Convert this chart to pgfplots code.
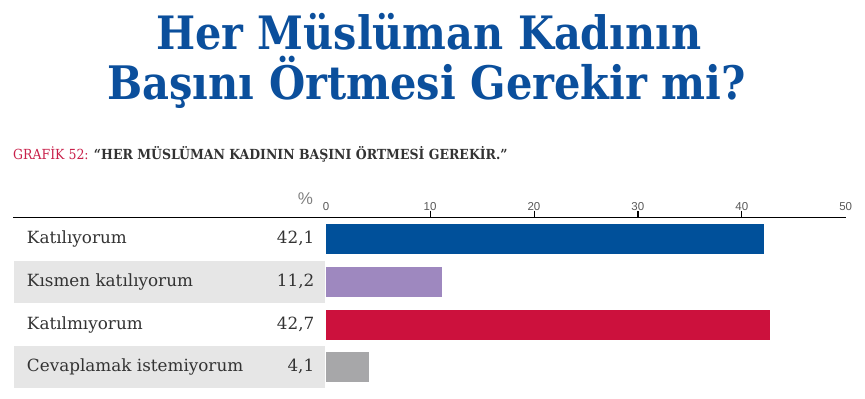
\documentclass[border=0pt]{standalone}
\usepackage{pgfplots}
\pgfplotsset{compat=1.18}
\usepackage{fontspec}
\setmainfont{DejaVu Serif Condensed}
\newfontfamily\titlefont{DejaVu Serif Condensed}
\newfontfamily\labelfont{DejaVu Serif}
\newfontfamily\tickfont{Liberation Sans}
\definecolor{tblue}{HTML}{0B4F9C}
\definecolor{bblue}{HTML}{00509A}
\definecolor{bpurple}{HTML}{9E88BF}
\definecolor{bred}{HTML}{CC113D}
\definecolor{bgray}{HTML}{A7A7A9}
\definecolor{rowgray}{HTML}{E6E6E6}
\definecolor{crimson}{HTML}{C8204A}
\definecolor{txt}{HTML}{333333}
\begin{document}
\begin{tikzpicture}
\useasboundingbox (0pt,0pt) rectangle (865pt,399pt);
\fill[rowgray] (14pt,96.3pt) rectangle (325pt,138.3pt);
\fill[rowgray] (14pt,11pt) rectangle (325pt,53pt);
\node[anchor=base, inner sep=0pt, text=tblue, font=\titlefont\bfseries\fontsize{46}{46}\selectfont] at (429pt,349.5pt) {Her Müslüman Kadının};
\node[anchor=base, inner sep=0pt, text=tblue, font=\titlefont\bfseries\fontsize{46.2}{46}\selectfont] at (426.7pt,299pt) {Başını Örtmesi Gerekir mi?};
\node[anchor=base west, inner sep=0pt, font=\fontsize{13.9}{13.9}\selectfont] at (13pt,239pt) {\textcolor{crimson}{GRAFİK 52:} \textcolor{txt}{\bfseries “HER MÜSLÜMAN KADININ BAŞINI ÖRTMESİ GEREKİR.”}};
\node[anchor=base east, inner sep=0pt, text=gray, font=\tickfont\fontsize{17}{17}\selectfont] at (313.3pt,194pt) {\%};
\draw[line width=0.9pt, black] (13.3pt,181.7pt) -- (845.7pt,181.7pt);
\foreach \tx in {430.0,534.0,638.0,741.8}{
  \draw[line width=0.8pt, black] (\tx pt,181.7pt) -- (\tx pt,188.3pt);
}
\begin{axis}[
  at={(326.1pt,181.7pt)}, anchor=north west,
  scale only axis, width=519.6pt, height=171.5pt,
  xmin=0, xmax=50, ymin=-0.5, ymax=3.507,
  xbar, bar shift=0pt, bar width=30pt,
  axis line style={draw=none},
  xtick pos=right, xticklabel pos=right, ytick pos=left,
  tick align=outside, major tick length=6.6pt,
  xtick={10,20,30,40}, extra x ticks={0,50},
  xtick style={draw=black, line width=0.8pt},
  extra x tick style={xtick style={draw=none}},
  ytick style={draw=none},
  /pgf/number format/assume math mode=true,
  xticklabel style={font=\tickfont\fontsize{11.5}{11.5}\selectfont, text=black!65, inner sep=0pt, yshift=-0.5pt},
  ytick={0,1,2,3},
  yticklabels={
    \makebox[287.3pt][l]{Cevaplamak istemiyorum\hfill 4,1},
    \makebox[287.3pt][l]{Katılmıyorum\hfill 42,7},
    \makebox[287.3pt][l]{Kısmen katılıyorum\hfill 11,2},
    \makebox[287.3pt][l]{Katılıyorum\hfill 42,1}},
  yticklabel style={font=\labelfont\fontsize{16.8}{16.8}\selectfont, text=txt, inner sep=0pt, anchor=east, xshift=-5pt},
  clip=false,
]
\addplot[fill=bblue, draw=none] coordinates {(42.1,3)};
\addplot[fill=bpurple, draw=none] coordinates {(11.2,2)};
\addplot[fill=bred, draw=none] coordinates {(42.7,1)};
\addplot[fill=bgray, draw=none] coordinates {(4.1,0)};
\end{axis}
\end{tikzpicture}
\end{document}
